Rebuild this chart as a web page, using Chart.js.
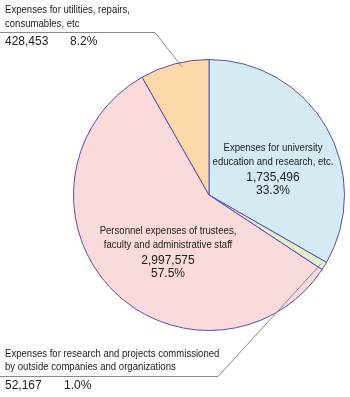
<!DOCTYPE html>
<html><head><meta charset="utf-8">
<script src="https://cdn.jsdelivr.net/npm/chart.js@4/dist/chart.umd.min.js"></script>
<style>html,body{margin:0;padding:0;background:#fff}#wrap{position:relative;width:350px;height:397px}</style>
</head><body><div id="wrap"><canvas id="c" width="350" height="397"></canvas></div>
<script>
const categories = [
  "Expenses for university education and research, etc.",
  "Expenses for research and projects commissioned by outside companies and organizations",
  "Personnel expenses of trustees, faculty and administrative staff",
  "Expenses for utilities, repairs, consumables, etc"
];
const values = [1735496, 52167, 2997575, 428453];
const valueLabels = ["1,735,496", "52,167", "2,997,575", "428,453"];
const percentLabels = ["33.3%", "1.0%", "57.5%", "8.2%"];
const labelLines = [
  ["Expenses for university", "education and research, etc."],
  ["Expenses for research and projects commissioned", "by outside companies and organizations"],
  ["Personnel expenses of trustees,", "faculty and administrative staff"],
  ["Expenses for utilities, repairs,", "consumables, etc"]
];
const colors = ["#d5ebf3", "#e4efcf", "#fadada", "#fdd9a9"];

const labelPlugin = {
  id: 'labels',
  afterDraw(chart) {
    const ctx = chart.ctx;
    const arcs = chart.getDatasetMeta(0).data;
    const F11 = '11px "Liberation Sans", Arial, sans-serif';
    const F12 = '12px "Liberation Sans", Arial, sans-serif';
    function narrow(text, x, y, sx) {
      ctx.save();
      ctx.translate(x, y);
      ctx.scale(sx, 1);
      ctx.fillText(text, 0, 0);
      ctx.restore();
    }
    ctx.save();
    ctx.fillStyle = '#222';
    ctx.textBaseline = 'middle';
    // inside labels
    ctx.textAlign = 'center';
    const inside = [[0, 273, 148], [2, 168, 231]];
    inside.forEach(([i, x, y]) => {
      ctx.font = F11;
      narrow(labelLines[i][0], x, y, 0.87);
      narrow(labelLines[i][1], x, y + 14, 0.87);
      ctx.font = F12;
      ctx.fillText(valueLabels[i], x, y + 30);
      ctx.fillText(percentLabels[i], x, y + 43);
    });
    // outside labels with leader lines
    function pt(i, frac, rf) {
      const a = arcs[i];
      const ang = a.startAngle + frac * (a.endAngle - a.startAngle);
      return [a.x + Math.cos(ang) * a.outerRadius * rf, a.y + Math.sin(ang) * a.outerRadius * rf];
    }
    ctx.strokeStyle = '#8a8a8a';
    ctx.lineWidth = 1;
    const p3 = pt(3, 0.6, 0.965);
    ctx.beginPath();
    ctx.moveTo(0, 32.5); ctx.lineTo(155, 32.5); ctx.lineTo(p3[0], p3[1]);
    ctx.stroke();
    const p1 = pt(1, 0.5, 0.97);
    ctx.beginPath();
    ctx.moveTo(0, 376.5); ctx.lineTo(218, 376.5); ctx.lineTo(p1[0], p1[1]);
    ctx.stroke();
    ctx.textAlign = 'left';
    ctx.font = F11;
    narrow(labelLines[3][0], 5, 10, 0.87);
    narrow(labelLines[3][1], 5, 24, 0.87);
    ctx.font = F12;
    ctx.fillText(valueLabels[3], 5, 42);
    ctx.fillText(percentLabels[3], 70, 42);
    ctx.font = F11;
    narrow(labelLines[1][0], 5, 354, 0.87);
    narrow(labelLines[1][1], 5, 367, 0.87);
    ctx.font = F12;
    ctx.fillText(valueLabels[1], 5, 386);
    ctx.fillText(percentLabels[1], 64, 386);
    ctx.restore();
  }
};

new Chart(document.getElementById('c'), {
  type: 'pie',
  data: {
    labels: categories,
    datasets: [{
      data: values,
      backgroundColor: colors,
      borderColor: '#5a4fae',
      borderWidth: 1
    }]
  },
  options: {
    responsive: false,
    animation: false,
    rotation: 0,
    layout: { padding: { left: 73, right: 5, top: 59, bottom: 66 } },
    plugins: { legend: { display: false }, tooltip: { enabled: false } }
  },
  plugins: [labelPlugin]
});
</script>
</body></html>
